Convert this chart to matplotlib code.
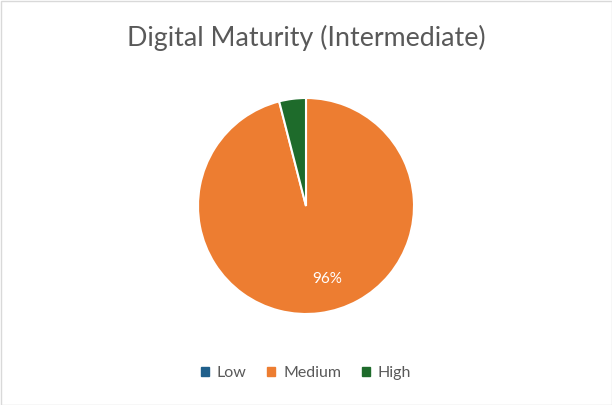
import matplotlib
matplotlib.use('Agg')
import matplotlib.pyplot as plt
from matplotlib.patches import Rectangle

labels = ['Low', 'Medium', 'High']
values = [0, 96, 4]
colors = ['#1F5F8B', '#ED7D31', '#1E6B2B']

plt.rcParams['font.family'] = ['Lato', 'DejaVu Sans']

fig = plt.figure(figsize=(6.12, 4.05), dpi=100)
ax = fig.add_axes([0.5 - 108/612, 1 - 314/405, 216/612, 216/405])

def pct(p):
    return '%d%%' % round(p) if p > 10 else ''

wedges, texts, autotexts = ax.pie(values, colors=colors, startangle=90, counterclock=False,
                                  autopct=pct, pctdistance=0.72,
                                  wedgeprops=dict(edgecolor='white', linewidth=1.5))
for t in autotexts:
    t.set_color('white')
    t.set_fontsize(11)
    if t.get_text():
        t.set_position((0.2, -0.68))
ax.set_xlim(-1.0, 1.0)
ax.set_ylim(-1.0, 1.0)
ax.set_aspect('equal')

fig.text(0.5, 1 - 38/405, 'Digital Maturity (Intermediate)', ha='center', va='center',
         fontsize=19.3, color='#595959')

handles = [Rectangle((0, 0), 1, 1, color=c) for c in colors]
fig.legend(handles, labels, loc='center', bbox_to_anchor=(0.5, 1 - 373/405), ncol=3,
           frameon=False, fontsize=11.5, labelcolor='#595959', handlelength=0.5,
           handleheight=0.5, handletextpad=0.5, columnspacing=1.3)

fig.patches.append(Rectangle((0.5/612, 0.5/405), 1 - 1/612, 1 - 1/405, transform=fig.transFigure,
                             fill=False, edgecolor='#D9D9D9', linewidth=1))
fig.savefig('out.png', dpi=100)
